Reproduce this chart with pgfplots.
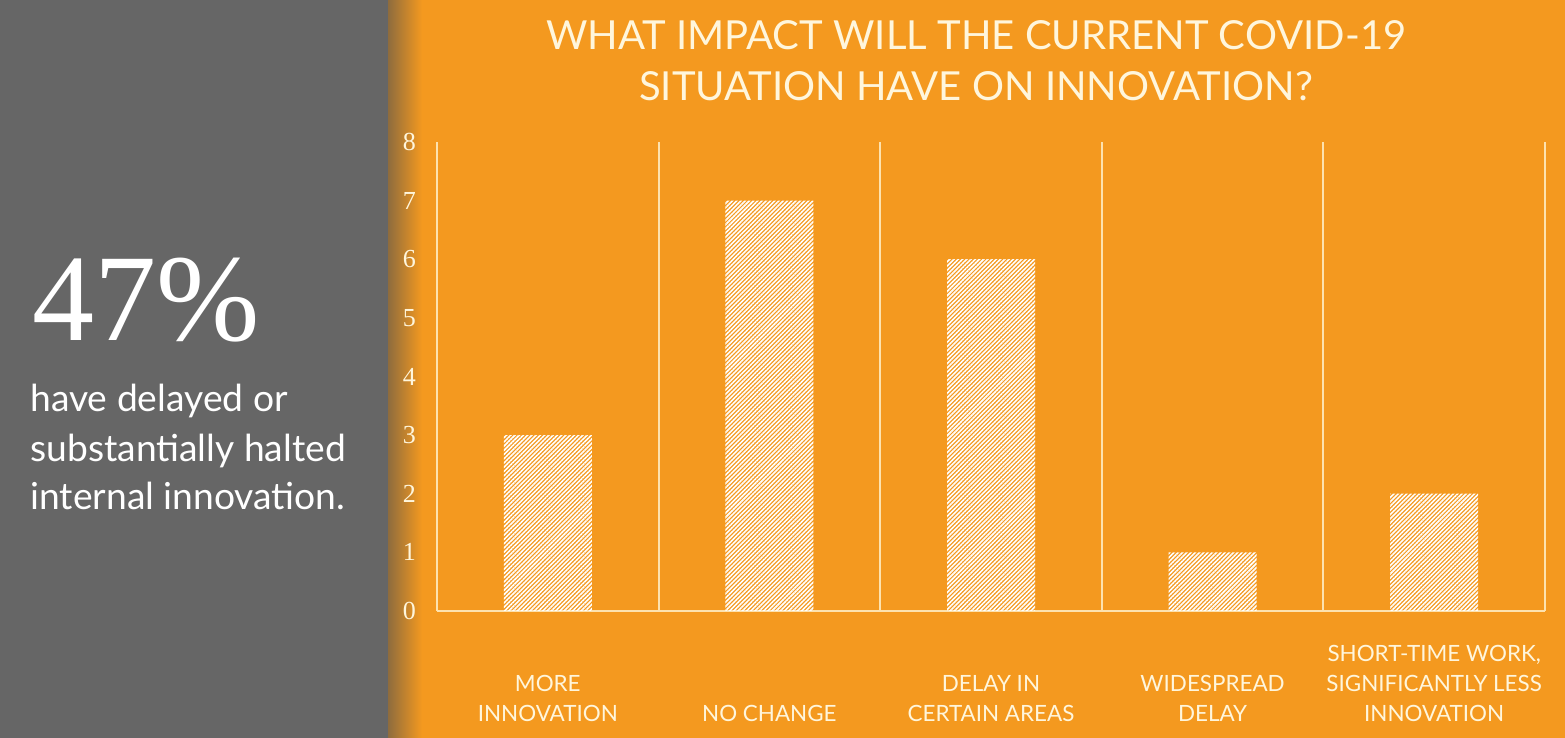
\documentclass[border=0pt]{standalone}
\usepackage{pgfplots}
\pgfplotsset{compat=1.18}
\usepackage{fontspec}
\usetikzlibrary{patterns.meta}
\setmainfont{Lato}
\newfontfamily\serif{Liberation Serif}
\definecolor{bgorange}{HTML}{F4991F}
\definecolor{panelgray}{HTML}{666666}
\definecolor{shadowbrown}{HTML}{8E6C3E}
\definecolor{cream}{HTML}{FFF6DC}
\definecolor{gridcream}{HTML}{FDE2AE}
\begin{document}
\begin{tikzpicture}
\useasboundingbox (0,0) rectangle (782.5pt,369pt);
\fill[bgorange] (0,0) rectangle (782.5pt,369pt);
\fill[panelgray] (0,0) rectangle (194pt,369pt);
\shade[left color=shadowbrown, right color=bgorange] (194pt,0) rectangle (211pt,369pt);
\node[anchor=base, inner sep=0pt, text=cream, font=\fontsize{20}{24}\selectfont] at (488pt,344pt) {WHAT IMPACT WILL THE CURRENT COVID-19};
\node[anchor=base, inner sep=0pt, text=cream, font=\fontsize{20}{24}\selectfont] at (488pt,318.5pt) {SITUATION HAVE ON INNOVATION?};
\node[anchor=base west, inner sep=0pt, text=white, font=\serif\fontsize{62}{62}\selectfont] at (16pt,198.5pt) {47\%};
\node[anchor=base west, inner sep=0pt, text=white, font=\fontsize{18.6}{24}\selectfont] at (15pt,163pt) {have delayed or};
\node[anchor=base west, inner sep=0pt, text=white, font=\fontsize{18.6}{24}\selectfont] at (15pt,138pt) {substantially halted};
\node[anchor=base west, inner sep=0pt, text=white, font=\fontsize{18.6}{24}\selectfont] at (15pt,114pt) {internal innovation.};
\begin{axis}[
  at={(218.5pt,63.5pt)}, anchor=south west,
  scale only axis, width=554pt, height=234.5pt,
  ybar, bar width=44pt,
  xmin=-0.5, xmax=4.5, ymin=0, ymax=8,
  ytick={0,1,2,3,4,5,6,7,8},
  xtick={0,1,2,3,4},
  xticklabels={{MORE\\INNOVATION},{NO CHANGE},{DELAY IN\\CERTAIN AREAS},{WIDESPREAD\\DELAY},{SHORT-TIME WORK,\\SIGNIFICANTLY LESS\\INNOVATION}},
  minor xtick={-0.5,0.5,1.5,2.5,3.5,4.5},
  xminorgrids,
  minor x grid style={gridcream, line width=1.1pt},
  major tick length=0pt, minor tick length=0pt,
  axis x line=bottom, axis y line=left,
  y axis line style={draw=none},
  x axis line style={gridcream, line width=0.6pt, -},
  /pgf/number format/assume math mode=true,
  yticklabel style={font=\serif\fontsize{13}{13}\selectfont, text=cream, xshift=-7pt},
  xticklabel style={font=\fontsize{11.2}{15}\selectfont, text=cream, align=center, anchor=south, inner sep=0pt, text depth=0pt, yshift=-55.5pt},
]
\addplot[draw=none, pattern={Lines[angle=45,distance=1.5pt,line width=0.8pt]}, pattern color=white] coordinates {(0,3) (1,7) (2,6) (3,1) (4,2)};
\end{axis}
\end{tikzpicture}
\end{document}
